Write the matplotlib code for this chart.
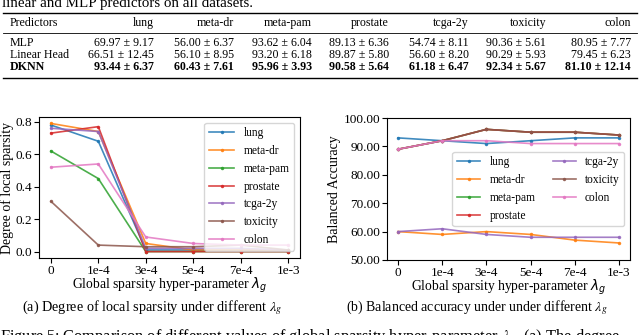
import matplotlib
matplotlib.use("Agg")
import matplotlib.pyplot as plt

plt.rcParams['font.family'] = ['Liberation Serif', 'DejaVu Sans']
plt.rcParams['mathtext.fontset'] = 'dejavusans'

# table data
datasets = ['lung', 'meta-dr', 'meta-pam', 'prostate', 'tcga-2y', 'toxicity', 'colon']
predictors = ['MLP', 'Linear Head', 'DKNN']
mlp_vals = ['69.97 ± 9.17', '56.00 ± 6.37', '93.62 ± 6.04', '89.13 ± 6.36', '54.74 ± 8.11', '90.36 ± 5.61', '80.95 ± 7.77']
linear_vals = ['66.51 ± 12.45', '56.10 ± 8.95', '93.20 ± 6.18', '89.87 ± 5.80', '56.60 ± 8.20', '90.29 ± 5.93', '79.45 ± 6.23']
dknn_vals = ['93.44 ± 6.37', '60.43 ± 7.61', '95.96 ± 3.93', '90.58 ± 5.64', '61.18 ± 6.47', '92.34 ± 5.67', '81.10 ± 12.14']

# plot data
lambdas = ['0', '1e-4', '3e-4', '5e-4', '7e-4', '1e-3']
sparsity = {
    'lung':     [0.78, 0.68, 0.01, 0.01, 0.01, 0.01],
    'meta-dr':  [0.79, 0.74, 0.05, 0.01, 0.01, 0.01],
    'meta-pam': [0.62, 0.45, 0.00, 0.00, 0.00, 0.00],
    'prostate': [0.73, 0.77, 0.00, 0.00, 0.00, 0.00],
    'tcga-2y':  [0.76, 0.74, 0.02, 0.02, 0.02, 0.01],
    'toxicity': [0.31, 0.04, 0.03, 0.03, 0.04, 0.01],
    'colon':    [0.52, 0.54, 0.09, 0.05, 0.04, 0.04],
}
accuracy = {
    'lung':     [93, 92, 91, 92, 93, 93],
    'meta-dr':  [60, 59, 60, 59, 57, 56],
    'meta-pam': [89, 92, 96, 95, 95, 94],
    'prostate': [89, 92, 96, 95, 95, 94],
    'tcga-2y':  [60, 61, 59, 58, 58, 58],
    'toxicity': [89, 92, 96, 95, 95, 94],
    'colon':    [89, 92, 92, 91, 91, 91],
}

W, H = 640, 335
fig = plt.figure(figsize=(6.4, 3.35), dpi=100)

def fx(px):
    return px / W

def fy(py):
    return 1 - py / H

# ---- table at top ----
fig.text(fx(2), fy(7), 'linear and MLP predictors on all datasets.', fontsize=10.8, va='baseline')
for y, lw in [(13, 1.0), (33, 0.6), (78, 1.0)]:
    fig.add_artist(plt.Line2D([fx(3), fx(637)], [fy(y), fy(y)], color='black', lw=lw))

col_right = [154, 234, 312, 389, 469, 546, 631]
fs = 8.6
fig.text(fx(10), fy(23), 'Predictors', fontsize=fs, va='center')
for x, name in zip(col_right, datasets):
    fig.text(fx(x), fy(23), name, fontsize=fs, va='center', ha='right')
rows = [mlp_vals, linear_vals, dknn_vals]
row_y = [43, 55, 67]
for name, vals, y in zip(predictors, rows, row_y):
    w = 'bold' if name == 'DKNN' else 'normal'
    fig.text(fx(10), fy(y), name, fontsize=fs, va='center', fontweight=w)
    for x, v in zip(col_right, vals):
        fig.text(fx(x), fy(y), v, fontsize=fs, va='center', ha='right', fontweight=w)

# ---- left plot ----
ax1 = fig.add_axes([fx(39), fy(258), fx(300 - 39), (258 - 117) / H])
for name in datasets:
    ax1.plot(lambdas, sparsity[name], marker='.', markersize=3, lw=1.2, alpha=0.85, label=name)
ax1.set_ylabel('Degree of local sparsity', fontsize=10, labelpad=1)
ax1.set_xlabel('Global sparsity hyper-parameter $\\lambda_g$', fontsize=9.8, labelpad=-1)
ax1.set_yticks([0.0, 0.2, 0.4, 0.6, 0.8])
ax1.tick_params(labelsize=9.5, pad=1.5)
ax1.legend(loc='upper right', fontsize=8.3, handlelength=2.2)

# ---- right plot ----
ax2 = fig.add_axes([fx(387), fy(260), fx(630 - 387), (260 - 118) / H])
for name in datasets:
    ax2.plot(lambdas, accuracy[name], marker='.', markersize=3, lw=1.2, alpha=0.85, label=name)
ax2.set_ylim(50, 100)
ax2.set_yticks([50, 60, 70, 80, 90, 100])
ax2.set_yticklabels(['%.2f' % v for v in [50, 60, 70, 80, 90, 100]])
ax2.set_ylabel('Balanced Accuracy', fontsize=10, labelpad=2)
ax2.set_xlabel('Global sparsity hyper-parameter $\\lambda_g$', fontsize=9.8, labelpad=-1)
ax2.tick_params(labelsize=9.5, pad=1.5)
ax2.legend(loc='center right', ncol=2, fontsize=8.3, columnspacing=1.5)

# ---- captions ----
fig.text(fx(152), fy(308), '(a) Degree of local sparsity under different $\\lambda_g$',
         fontsize=10.3, ha='center', va='center', math_fontfamily='stix')
fig.text(fx(477), fy(308), '(b) Balanced accuracy under under different $\\lambda_g$',
         fontsize=10, ha='center', va='center', math_fontfamily='stix')
fig.text(fx(0), fy(328), 'Figure 5: Comparison of different values of global sparsity hyper-parameter $\\lambda_g$. (a) The degree',
         fontsize=11.8, ha='left', va='top', math_fontfamily='stix')

fig.savefig('out.png', dpi=100)
